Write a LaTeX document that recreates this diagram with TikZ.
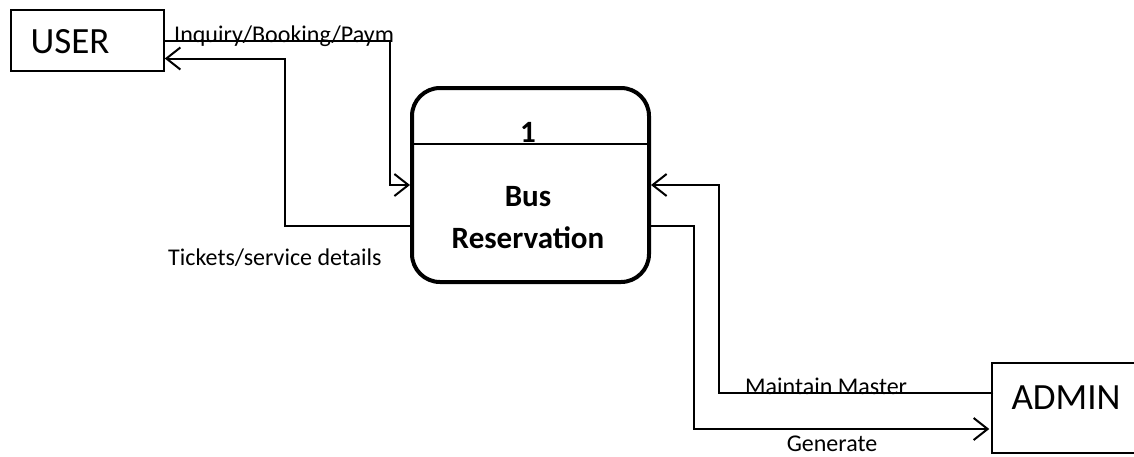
\documentclass[tikz,border=0pt]{standalone}
\usepackage{fontspec}
\setmainfont{Carlito}
\usetikzlibrary{arrows.meta,calc}
\begin{document}
\begin{tikzpicture}[x=1pt,y=-1pt,
  ent/.style={draw,line width=1.5pt,inner sep=0pt},
  enttxt/.style={font=\fontsize{37}{42}\selectfont,inner sep=0pt},
  flow/.style={line width=2pt},
  tip/.style={-{Straight Barb[length=14pt,width=22pt,line width=2pt]}},
  lbl/.style={font=\fontsize{24}{28}\selectfont,inner sep=0pt},
  ptxt/.style={font=\bfseries\fontsize{31}{36}\selectfont,inner sep=0pt}]
\useasboundingbox (0,0) rectangle (1134,456);
\clip (0,0) rectangle (1134,456);
% entities
\node[ent,minimum width=153pt,minimum height=61pt] (user) at (87.5,40.5) {};
\node[enttxt] (usertxt) at (70,42) {USER};
\node[ent,minimum width=170pt,minimum height=90pt] (admin) at (1077,408) {};
\node[enttxt] (admintxt) at (1066,398) {ADMIN};
% process
\node[draw,line width=4pt,rounded corners=28pt,minimum width=237pt,minimum height=194pt] (proc) at (530.5,185) {};
\draw[line width=1.2pt] ($(proc.west)+(0,-41)$) -- ($(proc.east)+(0,-41)$);
\node[ptxt] (pnum) at (528,132) {1};
\node[ptxt] (pname1) at (528,197) {Bus};
\node[ptxt] (pname2) at (528,238) {Reservation};
% flows
\draw[flow,tip] (user.east) -| ($(proc.west)+(-20,0)$) -- (proc.west);
\draw[flow,tip] ($(proc.west)+(0,41)$) -- ++(-125,0) |- ($(user.east)+(0,18)$);
\draw[flow,tip] ($(admin.west)+(2,-15)$) -| ($(proc.east)+(68,0)$) -- (proc.east);
\draw[flow,tip] ($(proc.east)+(0,41)$) -- ++(43,0) |- ($(admin.west)+(-2,21)$);
% labels
\node[lbl,anchor=base west] (l1) at (174,42) {Inquiry/Booking/Paym};
\node[lbl,anchor=west] (l2) at (168,258) {Tickets/service details};
\node[lbl,anchor=base west] (l3) at (745,394) {Maintain Master};
\node[lbl,anchor=base] (l4) at (832,451) {Generate};
\end{tikzpicture}
\end{document}
